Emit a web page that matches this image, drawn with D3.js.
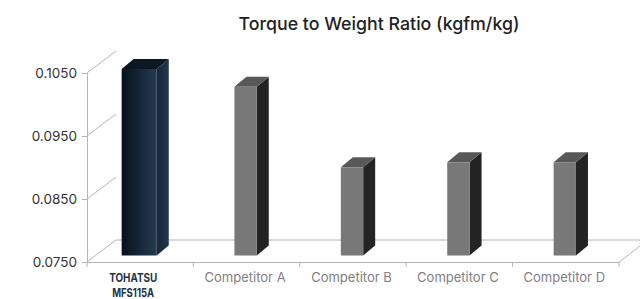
<!DOCTYPE html>
<html><head><meta charset="utf-8">
<script src="https://cdn.jsdelivr.net/npm/d3@7"></script>
<style>
html,body{margin:0;padding:0;background:#fff;}
svg{display:block;}
</style></head>
<body>
<svg id="chart" width="640" height="299"></svg>
<script>
const title = "Torque to Weight Ratio (kgfm/kg)";
const categories = ["TOHATSU\nMFS115A", "Competitor A", "Competitor B", "Competitor C", "Competitor D"];
const values = [0.1046, 0.1018, 0.0890, 0.0898, 0.0898];
const yTicks = [0.075, 0.085, 0.095, 0.105];
const highlightIndex = 0;

const svg = d3.select("#chart");
const W = 640, H = 299;
const plotLeft = 87, plotRight = 619, plotBottom = 262, plotTop = 73;
const depth = {dx: 29, dy: -22};      // floor depth
const barOff = {dx: 9, dy: -6.5};     // bar front plane
const barDepth = {dx: 12, dy: -10};   // bar thickness

const x = d3.scaleBand().domain(categories).range([plotLeft, plotRight]).padding(0);
const y = d3.scaleLinear().domain([0.075, 0.105]).range([plotBottom, plotTop]);

const defs = svg.append("defs");
const gF = defs.append("linearGradient").attr("id","hlFront").attr("x1","0").attr("x2","1").attr("y1","0").attr("y2","0");
gF.append("stop").attr("offset","0").attr("stop-color","#06111b");
gF.append("stop").attr("offset","1").attr("stop-color","#253b51");
const gS = defs.append("linearGradient").attr("id","hlSide").attr("x1","0").attr("x2","1").attr("y1","0").attr("y2","0");
gS.append("stop").attr("offset","0").attr("stop-color","#16273a");
gS.append("stop").attr("offset","1").attr("stop-color","#22374c");

// title
svg.append("text").attr("x", 379).attr("y", 30).attr("text-anchor","middle")
  .attr("font-family","Inter, Roboto, sans-serif").attr("font-weight",500)
  .attr("font-size",17.8).attr("fill","#222").text(title);

const lineC = "#b4b4b4";
const g = svg.append("g");
yTicks.forEach(t => {
  g.append("line").attr("x1",plotLeft).attr("y1",y(t)).attr("x2",plotLeft+depth.dx).attr("y2",y(t)+depth.dy)
   .attr("stroke",lineC).attr("stroke-width",1);
});
g.append("line").attr("x1",plotLeft+depth.dx).attr("y1",plotBottom+depth.dy).attr("x2",W+10).attr("y2",plotBottom+depth.dy)
  .attr("stroke",lineC);
g.append("line").attr("x1",plotRight).attr("y1",plotBottom).attr("x2",plotRight+depth.dx).attr("y2",plotBottom+depth.dy)
  .attr("stroke",lineC);

// y axis
const yAxis = d3.axisLeft(y).tickValues(yTicks).tickFormat(d3.format(".4f")).tickSize(5).tickPadding(5);
const ya = svg.append("g").attr("transform",`translate(${plotLeft},0)`).call(yAxis);
ya.select(".domain").attr("stroke",lineC);
ya.selectAll(".tick line").attr("stroke",lineC);
ya.selectAll(".tick text").attr("font-family","Inter, Roboto, sans-serif").attr("font-size",13.5).attr("fill","#333");

// x axis
const xAxis = d3.axisBottom(x).tickSize(0).tickFormat("");
const xa = svg.append("g").attr("transform",`translate(0,${plotBottom})`).call(xAxis);
xa.select(".domain").attr("stroke",lineC);
const bounds = categories.map(c => x(c)).concat([plotRight]);
xa.selectAll(".bnd").data(bounds).enter().append("line").attr("class","bnd")
  .attr("x1",d=>d).attr("x2",d=>d).attr("y1",0).attr("y2",5).attr("stroke",lineC);

// bars
const bars = svg.append("g");
categories.forEach((c, i) => {
  const v = values[i];
  const hl = i === highlightIndex;
  const w = x.bandwidth() * (hl ? 0.33 : 0.21);
  const cx = x(c) + x.bandwidth()/2 - 1;
  const x0 = cx - w/2, x1 = cx + w/2;
  const yb = y(0.075) + barOff.dy, yt = y(v) + barOff.dy;
  const bd = barDepth;
  bars.append("path").attr("d",
    `M${x1},${yt} L${x1+bd.dx},${yt+bd.dy} L${x1+bd.dx},${yb+bd.dy} L${x1},${yb} Z`)
    .attr("fill", hl ? "url(#hlSide)" : "#242424");
  bars.append("path").attr("d",
    `M${x0},${yt} L${x0+bd.dx},${yt+bd.dy} L${x1+bd.dx},${yt+bd.dy} L${x1},${yt} Z`)
    .attr("fill", hl ? "#0b1722" : "#585858");
  bars.append("rect").attr("x",x0).attr("y",yt).attr("width",w).attr("height",yb-yt)
    .attr("fill", hl ? "url(#hlFront)" : "#787878");
});

// x labels
categories.forEach((c, i) => {
  const hl = i === highlightIndex;
  const lines = c.split("\n");
  const lx = x(c) + x.bandwidth()/2 + (hl ? -7 : -1.5);
  const t = svg.append("text").attr("text-anchor","middle").attr("font-family","Inter, Roboto, sans-serif")
    .attr("font-size", hl ? 12 : 13).attr("font-weight", hl ? 700 : 400)
    .attr("fill", hl ? "#1f3347" : "#808080");
  lines.forEach((l, k) => {
    const ts = t.append("tspan").attr("x", lx).attr("y", 282 + k*15).text(l);
    if (hl) ts.attr("textLength", k === 0 ? 48 : 42).attr("lengthAdjust", "spacingAndGlyphs");
  });
});
</script>
</body></html>
